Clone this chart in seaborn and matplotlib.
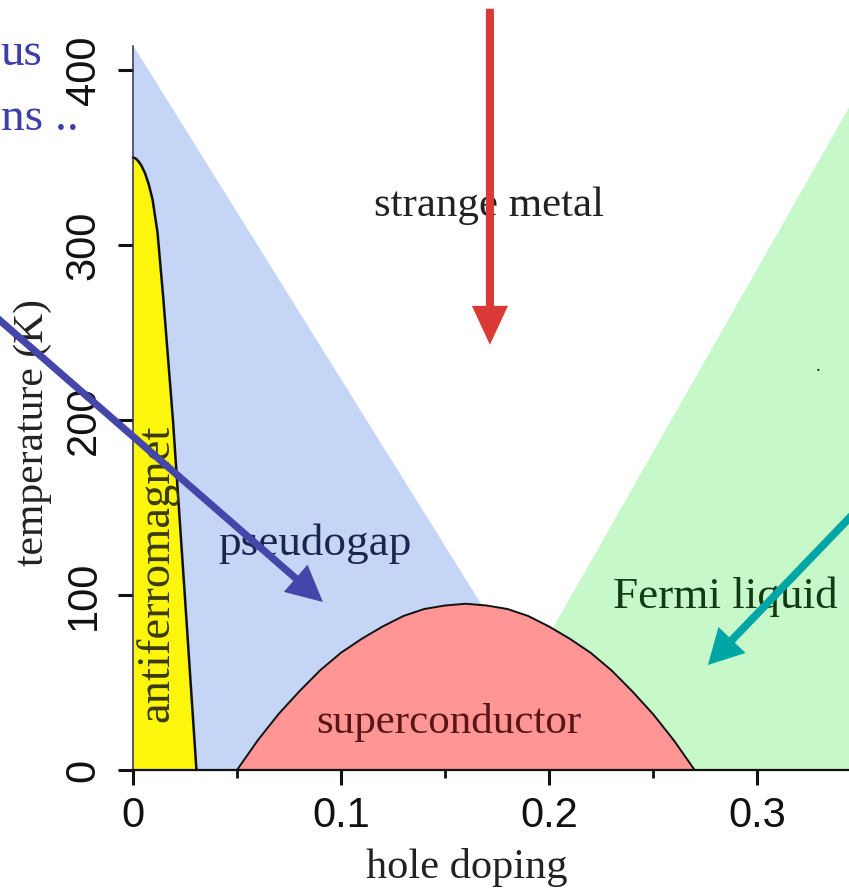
import matplotlib
matplotlib.use("Agg")
import matplotlib.pyplot as plt
import seaborn as sns
import pandas as pd
from matplotlib.patches import FancyArrowPatch, ArrowStyle

# ---------------- data ----------------
x_ticks = [0.0, 0.1, 0.2, 0.3]
x_tick_labels = ["0", "0.1", "0.2", "0.3"]
x_minor_ticks = [0.05, 0.15, 0.25]
y_ticks = [0, 100, 200, 300, 400]
y_tick_labels = ["0", "100", "200", "300", "400"]

# antiferromagnet boundary (doping, T)
afm_x = [0.000, 0.0012, 0.0025, 0.0040, 0.0058, 0.0076, 0.0094, 0.0118, 0.0146, 0.0192, 0.0249, 0.0305]
afm_T = [350, 349.5, 348, 345.5, 341, 334.5, 326, 307, 269, 200, 100, 0]

# pseudogap crossover line
pg_x = [0.0, 0.217]
pg_T = [414, 0]

# Fermi-liquid crossover line
fl_x = [0.163, 0.40]
fl_T = [0, 495]

# superconducting dome
sc_x = [0.05, 0.06, 0.07, 0.08, 0.09, 0.10, 0.11, 0.12, 0.13, 0.14, 0.15, 0.16,
        0.17, 0.18, 0.19, 0.20, 0.21, 0.22, 0.23, 0.24, 0.25, 0.26, 0.27]
sc_T = [0, 17, 32, 45, 57, 67, 75, 82, 88, 92, 94, 95,
        94, 92, 88, 82, 75, 67, 57, 45, 32, 17, 0]

region_names = ["strange metal", "pseudogap", "superconductor", "Fermi liquid", "antiferromagnet"]

# ---------------- style ----------------
sns.set_theme(style="white")
plt.rcParams["font.family"] = ["Liberation Serif", "DejaVu Serif"]

W, H = 849, 890
fig = plt.figure(figsize=(W / 100, H / 100), dpi=100, facecolor="white")
ax = fig.add_axes([0, 0, 1, 1])
ax.set_facecolor("white")

# fills
ax.fill_between(pg_x, 0, pg_T, color="#C5D5F6", lw=0, zorder=1)
ax.fill([fl_x[0], fl_x[1], fl_x[1]], [fl_T[0], fl_T[1], 0], color="#C7F8CA", lw=0, zorder=1)
ax.fill_betweenx(afm_T, 0, afm_x, color="#FBF60C", lw=0, zorder=2)
ax.fill_between(sc_x, 0, sc_T, color="#FF9595", lw=0, zorder=3)

# boundaries
df_afm = pd.DataFrame({"x": afm_x, "T": afm_T})
df_sc = pd.DataFrame({"x": sc_x, "T": sc_T})
sns.lineplot(data=df_afm, x="x", y="T", sort=False, estimator=None, color="#111111",
             lw=1.8, ax=ax, zorder=4)
sns.lineplot(data=df_sc, x="x", y="T", sort=False, estimator=None, color="#111111",
             lw=1.4, ax=ax, zorder=4)
ax.set_xlim(-133 / 2080, (W - 133) / 2080)
ax.set_ylim(-(H - 770) / 1.75, 770 / 1.75)

# spines / ticks
for s in ["top", "right"]:
    ax.spines[s].set_visible(False)
ax.spines["left"].set_position(("data", 0))
ax.spines["bottom"].set_position(("data", 0))
ax.spines["left"].set_bounds(0, 414)
ax.spines["bottom"].set_bounds(0, 0.36)
ax.spines["left"].set_color("#2a2f4a")
ax.spines["left"].set_linewidth(1.1)
ax.spines["bottom"].set_color("#111111")
ax.spines["bottom"].set_linewidth(1.6)
for s in ["left", "bottom"]:
    ax.spines[s].set_zorder(6)

ax.set_xticks(x_ticks)
ax.set_xticklabels(x_tick_labels, family=["Liberation Sans", "DejaVu Sans"], fontsize=30)
ax.set_xticks(x_minor_ticks, minor=True)
ax.set_yticks(y_ticks)
ax.set_yticklabels(y_tick_labels, family=["Liberation Sans", "DejaVu Sans"], fontsize=30,
                   rotation=90, va="center")
ax.tick_params(axis="both", which="major", direction="out", length=11, width=2.2,
               color="#111111", labelcolor="#111111", bottom=True, left=True)
ax.tick_params(axis="x", which="major", pad=8)
ax.tick_params(axis="y", which="major", pad=10)
ax.tick_params(axis="x", which="minor", direction="out", length=6, width=2.0,
               color="#111111", bottom=True)
ax.grid(False)

ax.set_xlabel("hole doping", fontsize=30.5, color="#222222")
ax.xaxis.set_label_coords(467 / W, (H - 848) / H)
ax.set_ylabel("temperature (K)", fontsize=30, color="#222222")
ax.yaxis.set_label_coords(52 / W, (H - 432) / H)

# region labels
ax.text(0.1712, 316.6, region_names[0], fontsize=31, color="#222222", ha="center", va="baseline", zorder=5)
ax.text(0.0875, 122.9, region_names[1], fontsize=32.5, color="#1b2650", ha="center", va="baseline", zorder=5)
ax.text(0.1517, 21.1, region_names[2], fontsize=31, color="#5a1616", ha="center", va="baseline", zorder=5)
ax.text(0.2849, 92.6, region_names[3], fontsize=32.5, color="#123a14", ha="center", va="baseline", zorder=5)
ax.text(0.0168, 112.5, region_names[4], fontsize=33.5, color="#3a3a08", ha="center", va="baseline",
        rotation=90, rotation_mode="anchor", zorder=5)

# partially visible slide text (left edge)
ax.text(-0.0636, 402.9, "us", fontsize=34, color="#3b3fa6", ha="left", va="baseline", zorder=5)
ax.text(-0.0636, 365.7, "ns ..", fontsize=34, color="#3b3fa6", ha="left", va="baseline", zorder=5)
ax.text(0.3293, 228, ".", fontsize=14, color="#222222", ha="center", va="baseline", zorder=5)

# arrows
def arrow(p0, p1, color, hl, hw, tw):
    a = FancyArrowPatch(p0, p1, arrowstyle=ArrowStyle.Simple(head_length=hl, head_width=hw, tail_width=tw),
                        mutation_scale=1, color=color, lw=0, shrinkA=0, shrinkB=0, zorder=7)
    ax.add_patch(a)

arrow((0.1716, 435), (0.1716, 243), "#d93a35", 28, 26, 5.8)
arrow((-0.066, 259), (0.0913, 96), "#4446aa", 26, 26, 5.2)
arrow((0.346, 146), (0.2764, 60), "#00a6a6", 25, 27, 5.6)

fig.savefig("out.png", dpi=100, facecolor="white")
